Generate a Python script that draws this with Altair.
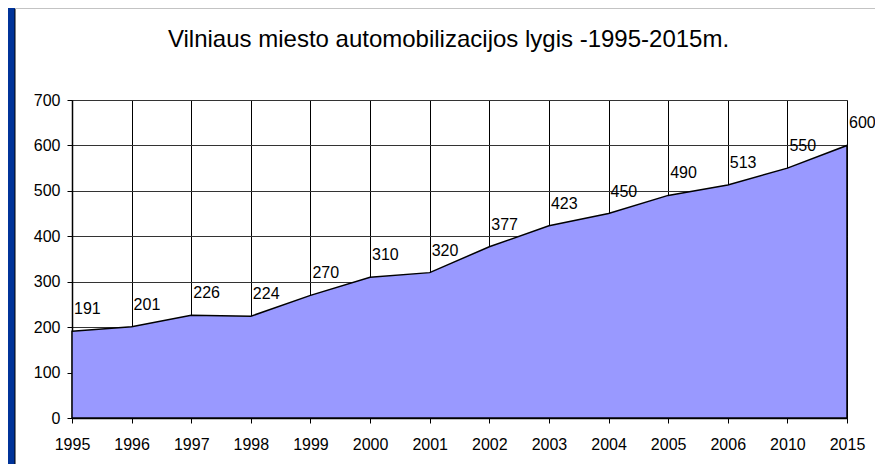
import altair as alt
import pandas as pd

TITLE = "Vilniaus miesto automobilizacijos lygis -1995-2015m."
years = ["1995", "1996", "1997", "1998", "1999", "2000", "2001",
         "2002", "2003", "2004", "2005", "2006", "2010", "2015"]
values = [191, 201, 226, 224, 270, 310, 320, 377, 423, 450, 490, 513, 550, 600]
y_ticks = [0, 100, 200, 300, 400, 500, 600, 700]

NAVY = "#003399"
FILL = "#9999FF"
FONT = "Liberation Sans"

W, H = 775, 318
df = pd.DataFrame({"year": years, "value": values})
one = pd.DataFrame({"t": [TITLE]})

x_enc = alt.X("year:O", sort=None,
              scale=alt.Scale(type="point", padding=0),
              axis=alt.Axis(title=None, labelAngle=0, tickSize=5, labelPadding=13,
                            grid=True, gridColor="#000000", gridWidth=1,
                            domainWidth=1.5, tickWidth=1))
y_enc = alt.Y("value:Q",
              scale=alt.Scale(domain=[0, 700], nice=False),
              axis=alt.Axis(title=None, values=y_ticks, tickSize=5, labelPadding=7,
                            grid=True, gridColor="#333333", gridWidth=1,
                            domainWidth=1.5, tickWidth=1))

base = alt.Chart(df)

area = base.mark_area(color=FILL, stroke="#000000", strokeWidth=1.5, opacity=1).encode(
    x=x_enc, y=y_enc)

labels = base.mark_text(align="left", baseline="alphabetic", dx=2, dy=-17,
                        font=FONT, fontSize=16, color="#000000").encode(
    x=alt.X("year:O", sort=None), y="value:Q", text="value:Q")

strip = alt.Chart(one).mark_rect(color=NAVY).encode(
    x=alt.value(-64), x2=alt.value(-57), y=alt.value(-92), y2=alt.value(H + 60))
left_border = alt.Chart(one).mark_rule(color="#000000", strokeWidth=1).encode(
    x=alt.value(-57), y=alt.value(-91), y2=alt.value(H + 60))
top_strip = alt.Chart(one).mark_rule(color="#888888", strokeWidth=1).encode(
    x=alt.value(-57), x2=alt.value(W + 40), y=alt.value(-92))

title = alt.Chart(one).mark_text(align="center", baseline="alphabetic",
                                 font=FONT, fontSize=24, color="#000000").encode(
    x=alt.value(376.5), y=alt.value(-53), text="t:N")

chart = alt.layer(strip, left_border, top_strip, area, labels, title).properties(
    width=W, height=H,
    autosize=alt.AutoSizeParams(type="none"),
    padding={"left": 64, "top": 92, "right": 28, "bottom": 46},
    background="#FFFFFF",
).configure_view(stroke="#888888", strokeWidth=1).configure_axis(
    labelFont=FONT, labelFontSize=16, labelColor="#000000",
    tickColor="#000000", domainColor="#000000",
)

chart.save("out.html", embed_options={"renderer": "svg", "actions": False})
